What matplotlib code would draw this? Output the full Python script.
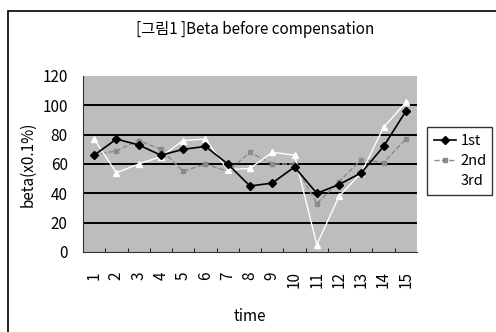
import matplotlib
matplotlib.use("Agg")
import matplotlib.pyplot as plt
from matplotlib.patches import Rectangle

plt.rcParams['font.family'] = ['Noto Sans CJK KR', 'DejaVu Sans']

time = list(range(1, 16))
first = [66, 77, 73, 66, 70, 72, 60, 45, 47, 58, 40, 46, 54, 72, 96]
second = [66, 69, 76, 70, 55, 60, 55, 68, 60, 60, 33, 48, 63, 61, 77]
third = [77, 54, 60, 65, 76, 77, 56, 57, 68, 66, 5, 38, 54, 85, 102]

fig = plt.figure(figsize=(4.96, 3.32), dpi=100)
# outer chart frame (right and bottom run off the page)
fig.patches.append(Rectangle((8 / 496, -0.2), 1.2, 1.2 - 11 / 332, transform=fig.transFigure,
                             fill=False, edgecolor='black', linewidth=1.2))

ax = fig.add_axes([83 / 496, 1 - 252 / 332, 334 / 496, 176 / 332])
ax.set_facecolor('#bdbdbd')
for y in [20, 40, 60, 80, 100]:
    ax.axhline(y, color='black', linewidth=1.4, zorder=1)

x = range(len(time))
ax.plot(x, first, color='black', marker='D', markersize=4, linewidth=1.2, label='1st', zorder=4)
ax.plot(x, second, color='#8a8a8a', marker='s', markersize=3.5, linewidth=1.0,
        linestyle='--', label='2nd', zorder=3)
ax.plot(x, third, color='white', marker='^', markersize=5, linewidth=1.0, label='3rd', zorder=3)

ax.set_xlim(-0.5, len(time) - 0.5)
ax.set_ylim(0, 120)
ax.set_yticks(range(0, 121, 20))
ax.set_xticks(list(x))
ax.set_xticks([k + 0.5 for k in range(len(time) - 1)], minor=True)
ax.set_xticklabels([str(t) for t in time], rotation=90, fontsize=11)
ax.tick_params(axis='y', length=0, labelsize=11, pad=11)
ax.tick_params(axis='x', which='major', length=0, pad=14)
ax.tick_params(axis='x', which='minor', direction='in', length=3)
for s in ['top', 'right']:
    ax.spines[s].set_visible(False)
ax.spines['left'].set_color('#333333')
ax.spines['bottom'].set_color('#333333')

ax.set_ylabel('beta(x0.1%)', fontsize=11, labelpad=4)
ax.set_xlabel('time', fontsize=11, labelpad=14)
fig.text(0.515, 1 - 30 / 332, '[그림1 ]Beta before compensation', ha='center', va='center', fontsize=11)

leg = ax.legend(loc='upper left', bbox_to_anchor=(427 / 496, 1 - 203 / 332, 65 / 496, 76 / 332),
                bbox_transform=fig.transFigure, mode='expand', frameon=True, fancybox=False,
                fontsize=10.5, handlelength=1.5, borderpad=0.5, labelspacing=0.4,
                handletextpad=0.3, borderaxespad=0)
leg.get_frame().set_edgecolor('black')
leg.get_frame().set_linewidth(1.0)

fig.savefig('out.png', dpi=100)
